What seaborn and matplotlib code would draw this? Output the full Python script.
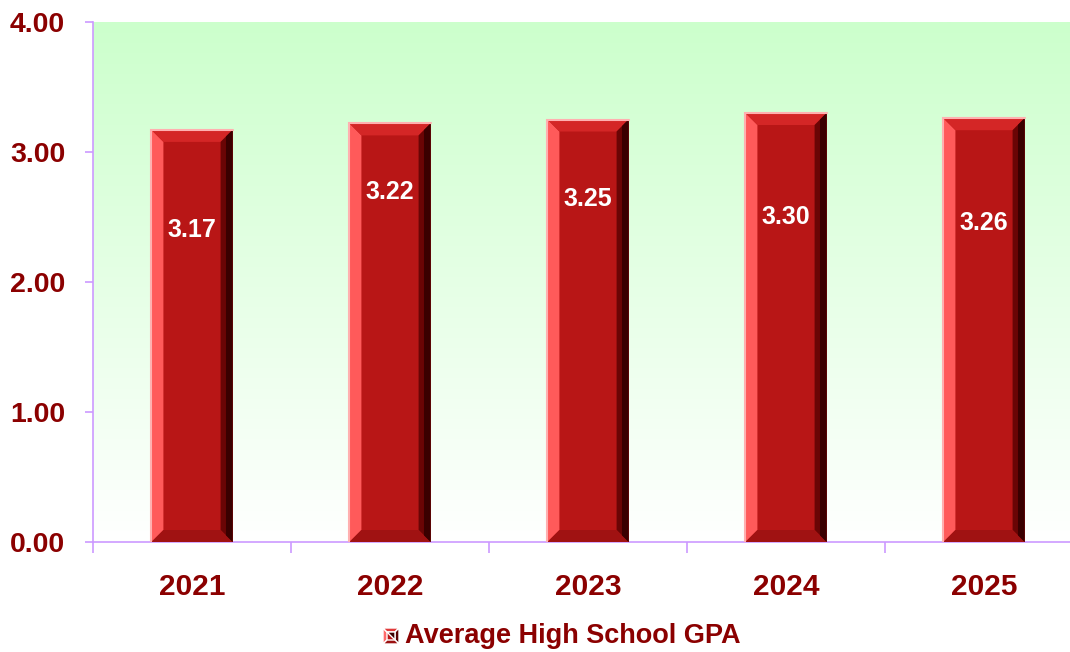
import numpy as np
import pandas as pd
import matplotlib
matplotlib.use("Agg")
import matplotlib.pyplot as plt
from matplotlib.patches import Polygon, Rectangle
from matplotlib.colors import LinearSegmentedColormap
import seaborn as sns

years = ["2021", "2022", "2023", "2024", "2025"]
gpa = [3.17, 3.22, 3.25, 3.30, 3.26]
label_pos = [2.40, 2.69, 2.64, 2.50, 2.45]
yticks = [0.0, 1.0, 2.0, 3.0, 4.0]
series_name = "Average High School GPA"

sns.set_theme(style="white")
plt.rcParams["font.family"] = ["Liberation Sans", "DejaVu Sans"]

W, H = 1070, 652
fig = plt.figure(figsize=(W / 100, H / 100), dpi=100)
left, right, top, bottom = 93, 1083, 22, 542
ax = fig.add_axes([left / W, 1 - bottom / H, (right - left) / W, (bottom - top) / H])

df = pd.DataFrame({"year": years, "gpa": gpa})
sns.barplot(data=df, x="year", y="gpa", color="#b81616", width=0.41,
            saturation=1, ax=ax, zorder=3, edgecolor="none")

# gradient background
grad = np.linspace(0, 1, 256).reshape(-1, 1)
cmap = LinearSegmentedColormap.from_list("g", ["#ffffff", "#ccffcc"])
ax.imshow(grad, extent=(-0.5, len(years) - 0.5, 0, 4), origin="lower",
          aspect="auto", cmap=cmap, zorder=0)
ax.set_xlim(-0.5, len(years) - 0.5)
ax.set_ylim(0, 4)

# bevels
bpx = 12
bx = bpx / ((right - left) / len(years))
by = bpx / ((bottom - top) / 4)
for p in list(ax.patches):
    if not isinstance(p, Rectangle) or p.get_height() <= 0:
        continue
    x0 = p.get_x(); x1 = x0 + p.get_width()
    y0 = p.get_y(); y1 = y0 + p.get_height()
    polys = [
        ([(x0, y0), (x0 + bx, y0 + by), (x0 + bx, y1 - by), (x0, y1)], "#ff5a5a"),
        ([(x0, y1), (x0 + bx, y1 - by), (x1 - bx, y1 - by), (x1, y1)], "#d42626"),
        ([(x1, y1), (x1 - bx, y1 - by), (x1 - bx, y0 + by), (x1, y0)], "#6a0505"),
        ([(x0, y0), (x1, y0), (x1 - bx, y0 + by), (x0 + bx, y0 + by)], "#a01212"),
    ]
    for pts, c in polys:
        ax.add_patch(Polygon(pts, closed=True, facecolor=c, edgecolor="none", zorder=4))
    ax.add_patch(Polygon([(x1, y1), (x1 - bx * 0.55, y1 - by * 0.55),
                          (x1 - bx * 0.55, y0 + by * 0.55), (x1, y0)],
                         closed=True, facecolor="#3a0000", edgecolor="none", zorder=4))
    ax.plot([x0, x0, x1], [y0, y1, y1], color="#ffb0b0", lw=1.5, zorder=5,
            solid_joinstyle="miter")

for i, (v, lp) in enumerate(zip(gpa, label_pos)):
    ax.text(i, lp, f"{v:.2f}", ha="center", va="center", color="white",
            fontsize=18, fontweight="bold", zorder=6)

# axes styling
for s in ["top", "right"]:
    ax.spines[s].set_visible(False)
for s in ["left", "bottom"]:
    ax.spines[s].set_color("#cc99ff")
    ax.spines[s].set_linewidth(1.2)
ax.set_yticks(yticks)
ax.set_yticklabels([f"{t:.2f}" for t in yticks])
ax.set_xticks(np.arange(len(years)))
ax.set_xticklabels(years)
ax.set_xticks(np.arange(len(years) + 1) - 0.5, minor=True)
ax.tick_params(axis="x", which="major", length=0, pad=22, labelsize=21.5,
               labelcolor="#8b0000")
ax.tick_params(axis="x", which="minor", length=8, color="#cc99ff", width=1.2,
               direction="out", bottom=True)
ax.tick_params(axis="y", length=6, color="#cc99ff", width=1.2, pad=14,
               labelsize=20.5, labelcolor="#8b0000", left=True)
for lab in ax.get_xticklabels() + ax.get_yticklabels():
    lab.set_fontweight("bold")
ax.set_xlabel("")
ax.set_ylabel("")

# legend
mx, my, ms = 383, 628, 16
lax = fig.add_axes([mx / W, 1 - (my + ms) / H, ms / W, ms / H])
lax.set_xlim(0, 1); lax.set_ylim(0, 1); lax.axis("off")
b = 0.25
lax.add_patch(Rectangle((0, 0), 1, 1, facecolor="#b81616"))
lax.add_patch(Polygon([(0, 0), (b, b), (b, 1 - b), (0, 1)], facecolor="#ff6a6a"))
lax.add_patch(Polygon([(0, 1), (b, 1 - b), (1 - b, 1 - b), (1, 1)], facecolor="#e03a3a"))
lax.add_patch(Polygon([(1, 1), (1 - b, 1 - b), (1 - b, b), (1, 0)], facecolor="#5a0202"))
lax.add_patch(Polygon([(0, 0), (1, 0), (1 - b, b), (b, b)], facecolor="#9a1010"))
lax.add_patch(Polygon([(b, 1 - b), (1 - b, b), (1 - b, 1 - b)], facecolor="#3a0000"))
fig.text(405 / W, 1 - 636 / H, series_name, ha="left", va="center",
         fontsize=19.5, fontweight="bold", color="#8b0000")

fig.savefig("out.png", dpi=100)
